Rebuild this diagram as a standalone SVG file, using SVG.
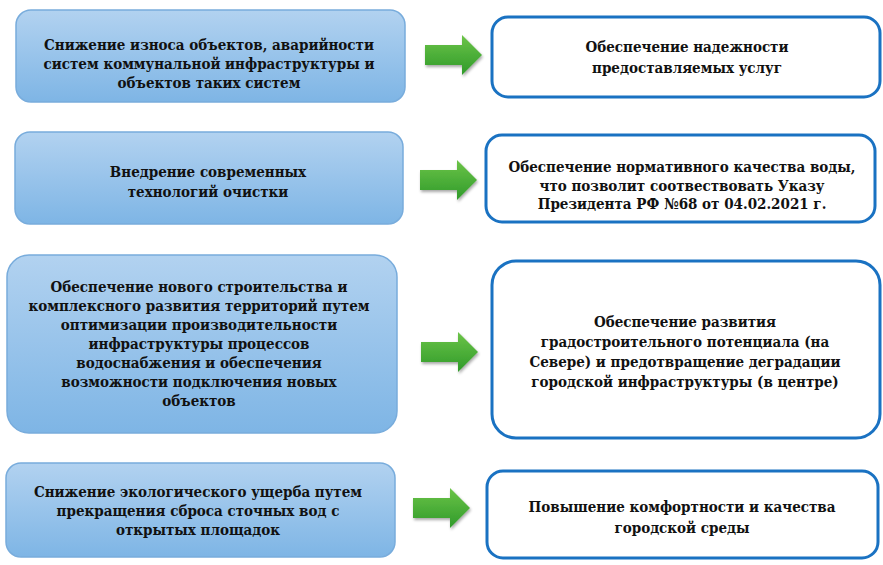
<svg xmlns="http://www.w3.org/2000/svg" width="883" height="565" viewBox="0 0 883 565">
<defs>
<linearGradient id="gBlue" x1="0" y1="0" x2="0" y2="1">
<stop offset="0" stop-color="#b2d2f0"/>
<stop offset="1" stop-color="#7eb5e5"/>
</linearGradient>
<linearGradient id="gGreen" x1="0" y1="0" x2="0" y2="1">
<stop offset="0" stop-color="#6cc448"/>
<stop offset="1" stop-color="#2f9a2a"/>
</linearGradient>
<filter id="sh" x="-20%" y="-20%" width="150%" height="160%">
<feGaussianBlur in="SourceAlpha" stdDeviation="1.5"/>
<feOffset dx="1" dy="2" result="b"/>
<feComponentTransfer><feFuncA type="linear" slope="0.35"/></feComponentTransfer>
<feMerge><feMergeNode/><feMergeNode in="SourceGraphic"/></feMerge>
</filter>
<path id="arr" d="M0,10 H37 V0 L57,20 L37,40 V30 H0 Z"/>
</defs>
<style>
.src{fill:url(#gBlue);stroke:#78acdc;stroke-width:1.5}
.dst{fill:#ffffff;stroke:#1a72c2;stroke-width:3}
.t{font-family:'DejaVu Serif Condensed','DejaVu Serif',serif;font-stretch:condensed;font-weight:700;font-size:15px;fill:#111;text-anchor:middle}
.ar{fill:url(#gGreen);filter:url(#sh)}
</style>
<rect width="883" height="565" fill="#ffffff"/>

<g id="src1">
<rect class="src" x="16" y="10" width="389" height="92" rx="15"/>
<text class="t" x="209" y="50">Снижение износа объектов, аварийности</text>
<text class="t" x="209" y="69">систем коммунальной инфраструктуры и</text>
<text class="t" x="209" y="88">объектов таких систем</text>
</g>
<g id="dst1">
<rect class="dst" x="492" y="17" width="388" height="80" rx="16"/>
<text class="t" x="687" y="52">Обеспечение надежности</text>
<text class="t" x="687" y="73">предоставляемых услуг</text>
</g>

<g id="src2">
<rect class="src" x="15" y="132" width="388" height="92" rx="15"/>
<text class="t" x="208" y="177">Внедрение современных</text>
<text class="t" x="208" y="197">технологий очистки</text>
</g>
<g id="dst2">
<rect class="dst" x="486" y="135" width="389" height="87" rx="16"/>
<text class="t" x="682" y="172">Обеспечение нормативного качества воды,</text>
<text class="t" x="682" y="191">что позволит соотвествовать Указу</text>
<text class="t" x="682" y="209">Президента РФ №68 от 04.02.2021 г.</text>
</g>

<g id="src3">
<rect class="src" x="7" y="255" width="390" height="178" rx="22"/>
<text class="t" x="199" y="292">Обеспечение нового строительства и</text>
<text class="t" x="199" y="311">комплексного развития территорий путем</text>
<text class="t" x="199" y="330">оптимизации производительности</text>
<text class="t" x="199" y="349">инфраструктуры процессов</text>
<text class="t" x="199" y="368">водоснабжения и обеспечения</text>
<text class="t" x="199" y="387">возможности подключения новых</text>
<text class="t" x="199" y="406">объектов</text>
</g>
<g id="dst3">
<rect class="dst" x="492" y="261" width="388" height="177" rx="24"/>
<text class="t" x="685" y="327">Обеспечение развития</text>
<text class="t" x="685" y="347">градостроительного потенциала (на</text>
<text class="t" x="685" y="367">Севере) и предотвращение деградации</text>
<text class="t" x="685" y="387">городской инфраструктуры (в центре)</text>
</g>

<g id="src4">
<rect class="src" x="6" y="463" width="389" height="94" rx="15"/>
<text class="t" x="198" y="497">Снижение экологического ущерба путем</text>
<text class="t" x="198" y="516">прекращения сброса сточных вод с</text>
<text class="t" x="198" y="535">открытых площадок</text>
</g>
<g id="dst4">
<rect class="dst" x="487" y="471" width="391" height="87" rx="16"/>
<text class="t" x="682" y="512">Повышение комфортности и качества</text>
<text class="t" x="682" y="533">городской среды</text>
</g>

<g id="connectors">
<use href="#arr" class="ar" x="425" y="35"/>
<use href="#arr" class="ar" x="420" y="160"/>
<use href="#arr" class="ar" x="421" y="332"/>
<use href="#arr" class="ar" x="413" y="488"/>
</g>
</svg>
